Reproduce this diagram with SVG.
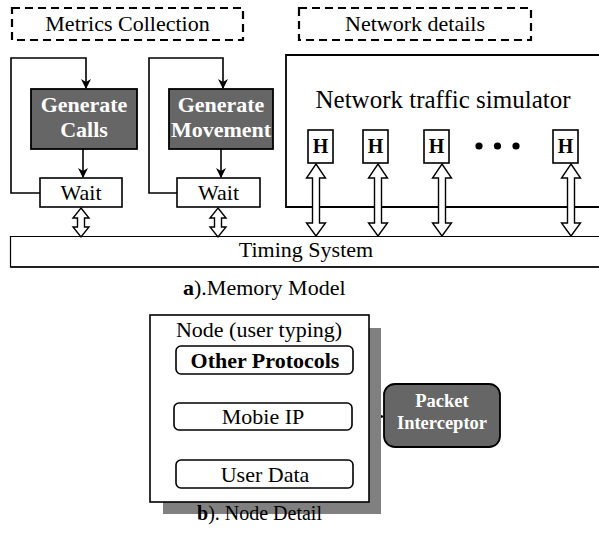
<svg xmlns="http://www.w3.org/2000/svg" width="599" height="535" viewBox="0 0 599 535" font-family="'Liberation Serif', 'Times New Roman', 'DejaVu Serif', serif">
<style>
.t22{font-size:22px}
.b{font-weight:bold}
.w{fill:#fff}
.dash{fill:#fff;stroke:#000;stroke-width:2.2;stroke-dasharray:8 5}
.box{fill:#fff;stroke:#000;stroke-width:1.6}
.dark{fill:#666;stroke:#000;stroke-width:1.8}
.ln{fill:none;stroke:#000;stroke-width:1.6}
.dbl{fill:#fff;stroke:#000;stroke-width:1.4;stroke-linejoin:miter}
</style>
<defs>
<marker id="ah" viewBox="0 0 10 10" refX="9" refY="5" markerWidth="10" markerHeight="10" markerUnits="userSpaceOnUse" orient="auto">
<path d="M0,0 L10,5 L0,10 L3,5 Z" fill="#000"/>
</marker>
</defs>
<rect width="599" height="535" fill="#fff"/>

<g id="metrics-label">
<rect class="dash" x="12" y="8" width="231" height="32"/>
<text class="t22" x="127.5" y="31" text-anchor="middle">Metrics Collection</text>
</g>
<g id="network-label">
<rect class="dash" x="299" y="8" width="232" height="32"/>
<text class="t22" x="415" y="31" text-anchor="middle">Network details</text>
</g>

<g id="timing">
<path d="M601,236.5 L10.5,236.5 L10.5,267 L601,267" fill="#fff" stroke="#000" stroke-width="1.2"/>
<path d="M10.5,267 L601,267" stroke="#000" stroke-width="1.6"/>
<text class="t22" x="306" y="257" text-anchor="middle">Timing System</text>
</g>

<g id="simulator">
<path d="M601,55 L286,55 L286,207 L601,207" fill="#fff" stroke="#000" stroke-width="1.8"/>
<text x="443" y="108" font-size="25" text-anchor="middle">Network traffic simulator</text>
</g>

<g id="gen-calls">
<rect class="dark" x="31" y="89" width="106" height="60"/>
<text class="t22 b w" x="84" y="112" text-anchor="middle">Generate</text>
<text class="t22 b w" x="84" y="137" text-anchor="middle">Calls</text>
</g>
<g id="wait1">
<rect class="box" x="40" y="178" width="82" height="29"/>
<text class="t22" x="81" y="200" text-anchor="middle">Wait</text>
</g>
<g id="gen-movement">
<rect class="dark" x="169" y="89" width="104" height="60"/>
<text class="t22 b w" x="221" y="112" text-anchor="middle">Generate</text>
<text class="t22 b w" x="221" y="137" text-anchor="middle">Movement</text>
</g>
<g id="wait2">
<rect class="box" x="177" y="178" width="83" height="29"/>
<text class="t22" x="218.5" y="200" text-anchor="middle">Wait</text>
</g>

<g id="h1"><rect class="box" x="308" y="130" width="25" height="33"/><text class="b" font-size="20" x="320.5" y="153" text-anchor="middle">H</text></g>
<g id="h2"><rect class="box" x="363" y="130" width="25" height="33"/><text class="b" font-size="20" x="375.5" y="153" text-anchor="middle">H</text></g>
<g id="h3"><rect class="box" x="424" y="130" width="25" height="33"/><text class="b" font-size="20" x="436.5" y="153" text-anchor="middle">H</text></g>
<g id="dots">
<circle cx="479" cy="146" r="3.6"/><circle cx="497.5" cy="146" r="3.6"/><circle cx="516" cy="146" r="3.6"/>
</g>
<g id="h4"><rect class="box" x="553" y="130" width="25" height="33"/><text class="b" font-size="20" x="565.5" y="153" text-anchor="middle">H</text></g>

<g id="connectors">
<path class="ln" d="M40,193 L11,193 L11,58 L86,58 L86,88" marker-end="url(#ah)"/>
<path class="ln" d="M83,149 L83,177" marker-end="url(#ah)"/>
<path class="ln" d="M177,193 L149,193 L149,58 L223,58 L223,88" marker-end="url(#ah)"/>
<path class="ln" d="M221,149 L221,177" marker-end="url(#ah)"/>
<path class="dbl" d="M81,208 L89,218 L84.5,218 L84.5,227 L89,227 L81,237 L73,227 L77.5,227 L77.5,218 L73,218 Z"/>
<path class="dbl" d="M218,208 L226,218 L221.5,218 L221.5,227 L226,227 L218,237 L210,227 L214.5,227 L214.5,218 L210,218 Z"/>
<path class="dbl" d="M316,164 L325.5,178 L319.5,178 L319.5,223 L325.5,223 L316,236 L306.5,223 L312.5,223 L312.5,178 L306.5,178 Z"/>
<path class="dbl" d="M378,164 L387.5,178 L381.5,178 L381.5,223 L387.5,223 L378,236 L368.5,223 L374.5,223 L374.5,178 L368.5,178 Z"/>
<path class="dbl" d="M442,164 L451.5,178 L445.5,178 L445.5,223 L451.5,223 L442,236 L432.5,223 L438.5,223 L438.5,178 L432.5,178 Z"/>
<path class="dbl" d="M571,164 L580.5,178 L574.5,178 L574.5,223 L580.5,223 L571,236 L561.5,223 L567.5,223 L567.5,178 L561.5,178 Z"/>
<path class="ln" d="M352,416.5 L383,416.5" marker-end="url(#ah)"/>
</g>

<g id="caption-a">
<text class="t22" x="183" y="295"><tspan class="b">a</tspan>).Memory Model</text>
</g>

<g id="node">
<rect x="163" y="328" width="218" height="186" fill="#808080"/>
<rect class="box" x="150" y="315" width="219" height="187" stroke-width="1.8"/>
<text class="t22" x="259" y="337" text-anchor="middle">Node (user typing)</text>
</g>
<g id="other-protocols">
<rect class="box" x="176" y="346" width="177" height="28" rx="5"/>
<text class="t22 b" x="265" y="368" text-anchor="middle">Other Protocols</text>
</g>
<g id="mobile-ip">
<rect class="box" x="174" y="403" width="178" height="27" rx="5"/>
<text class="t22" x="263" y="424" text-anchor="middle">Mobie IP</text>
</g>
<g id="user-data">
<rect class="box" x="176" y="460" width="177" height="28" rx="5"/>
<text class="t22" x="265" y="482" text-anchor="middle">User Data</text>
</g>
<g id="packet-interceptor">
<rect class="dark" x="384" y="384" width="116" height="63" rx="11"/>
<text class="b w" font-size="18.5" x="442" y="407" text-anchor="middle">Packet</text>
<text class="b w" font-size="18.5" x="442" y="429" text-anchor="middle">Interceptor</text>
</g>
<g id="caption-b">
<text font-size="20" x="197" y="520"><tspan class="b">b</tspan>). Node Detail</text>
</g>
</svg>
